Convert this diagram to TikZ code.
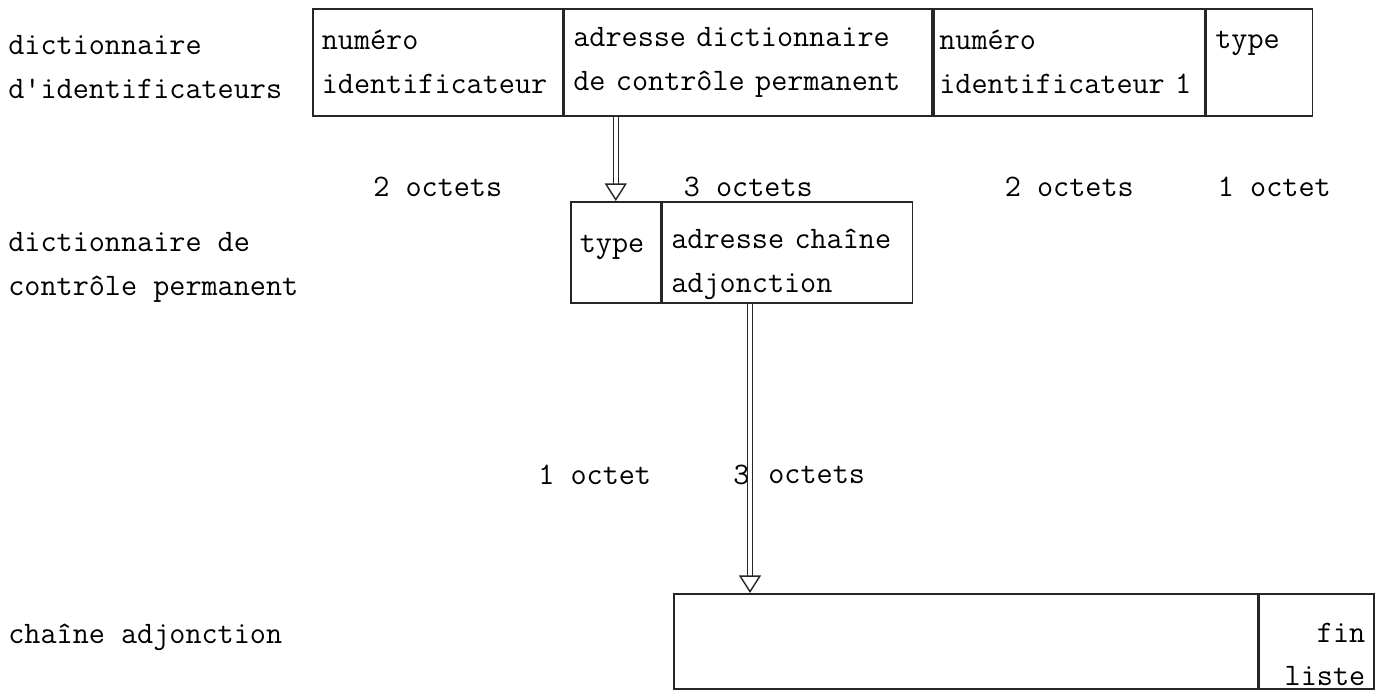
\documentclass[tikz,border=0pt]{standalone}
\usepackage{fontspec}
\usetikzlibrary{arrows.meta}

\begin{document}
\begin{tikzpicture}[x=0.02cm, y=-0.02cm,
    every node/.style={font=\ttfamily\fontsize{17.8}{25}\selectfont},
    cell/.style={draw=black!85, line width=0.9pt, anchor=north west,
        inner xsep=0.18cm, inner ysep=0pt, align=left},
    lower/.style={execute at begin node={\rule{0pt}{#1}}},
    legend/.style={anchor=west, inner sep=0pt, align=left},
    octets/.style={anchor=west, inner sep=0pt},
    pointer/.style={draw=black!85, double=white, double distance=2.3pt, line width=0.5pt,
        -{Triangle[open, length=10pt, width=12.5pt, line width=0.8pt]}}]
    \useasboundingbox (0,0) rectangle (1381,692);

    % Dictionnaire d'identificateurs
    \node[legend] (l1) at (8,67) {dictionnaire\\d'identificateurs};
    \node[cell, text width=4.64cm, minimum height=2.14cm] (num) at (312,8) {numéro\\identificateur};
    \node[cell, text width=7.00cm, minimum height=2.14cm] (adr) at (num.north east) {adresse dictionnaire\\de contrôle permanent};
    \node[cell, inner xsep=0.11cm, text width=5.20cm, minimum height=2.14cm] (num1) at (adr.north east) {numéro\\identificateur 1};
    \node[cell, text width=1.76cm, minimum height=2.14cm] (typ) at (num1.north east) {type\\\mbox{}};

    % Tailles
    \node[octets, anchor=center] (o1) at (num.south |- 0,187) {2 octets};
    \node[octets, anchor=center] (o2) at (adr.south |- 0,187) {3 octets};
    \node[octets, anchor=center] (o3) at (num1.south |- 0,187) {2 octets};
    \node[octets, anchor=center, xshift=0.3cm] (o4) at (typ.south |- 0,187) {1 octet};

    % Dictionnaire de controle permanent
    \node[legend] (l2) at (8,267) {dictionnaire de\\contrôle permanent};
    \node[cell, lower=25pt, text width=1.44cm, minimum height=2.02cm] (mtyp) at (570,201) {type\\\mbox{}};
    \node[cell, lower=25pt, text width=4.64cm, minimum height=2.02cm] (chn) at (mtyp.north east) {adresse chaîne\\adjonction};

    \node[octets] (o5) at (538,475) {1 octet};
    \node[octets] (o6) at (733,475) {3};
    \node[octets] (o7) at (768,475) {octets};

    % Chaine adjonction
    \node[legend] (l3) at (8,637) {chaîne adjonction};
    \node[cell, text width=11.32cm, minimum height=1.9cm] (lst) at (673,593) {};
    \node[cell, lower=26pt, text width=1.94cm, minimum height=1.9cm, align=right] (fin) at (lst.north east) {fin\\liste};

    % Pointeurs
    \coordinate (p2) at (750,0);
    \draw[pointer] (mtyp.north |- adr.south) -- (mtyp.north);
    \draw[pointer] (p2 |- chn.south) -- (p2 |- lst.north);
\end{tikzpicture}
\end{document}
